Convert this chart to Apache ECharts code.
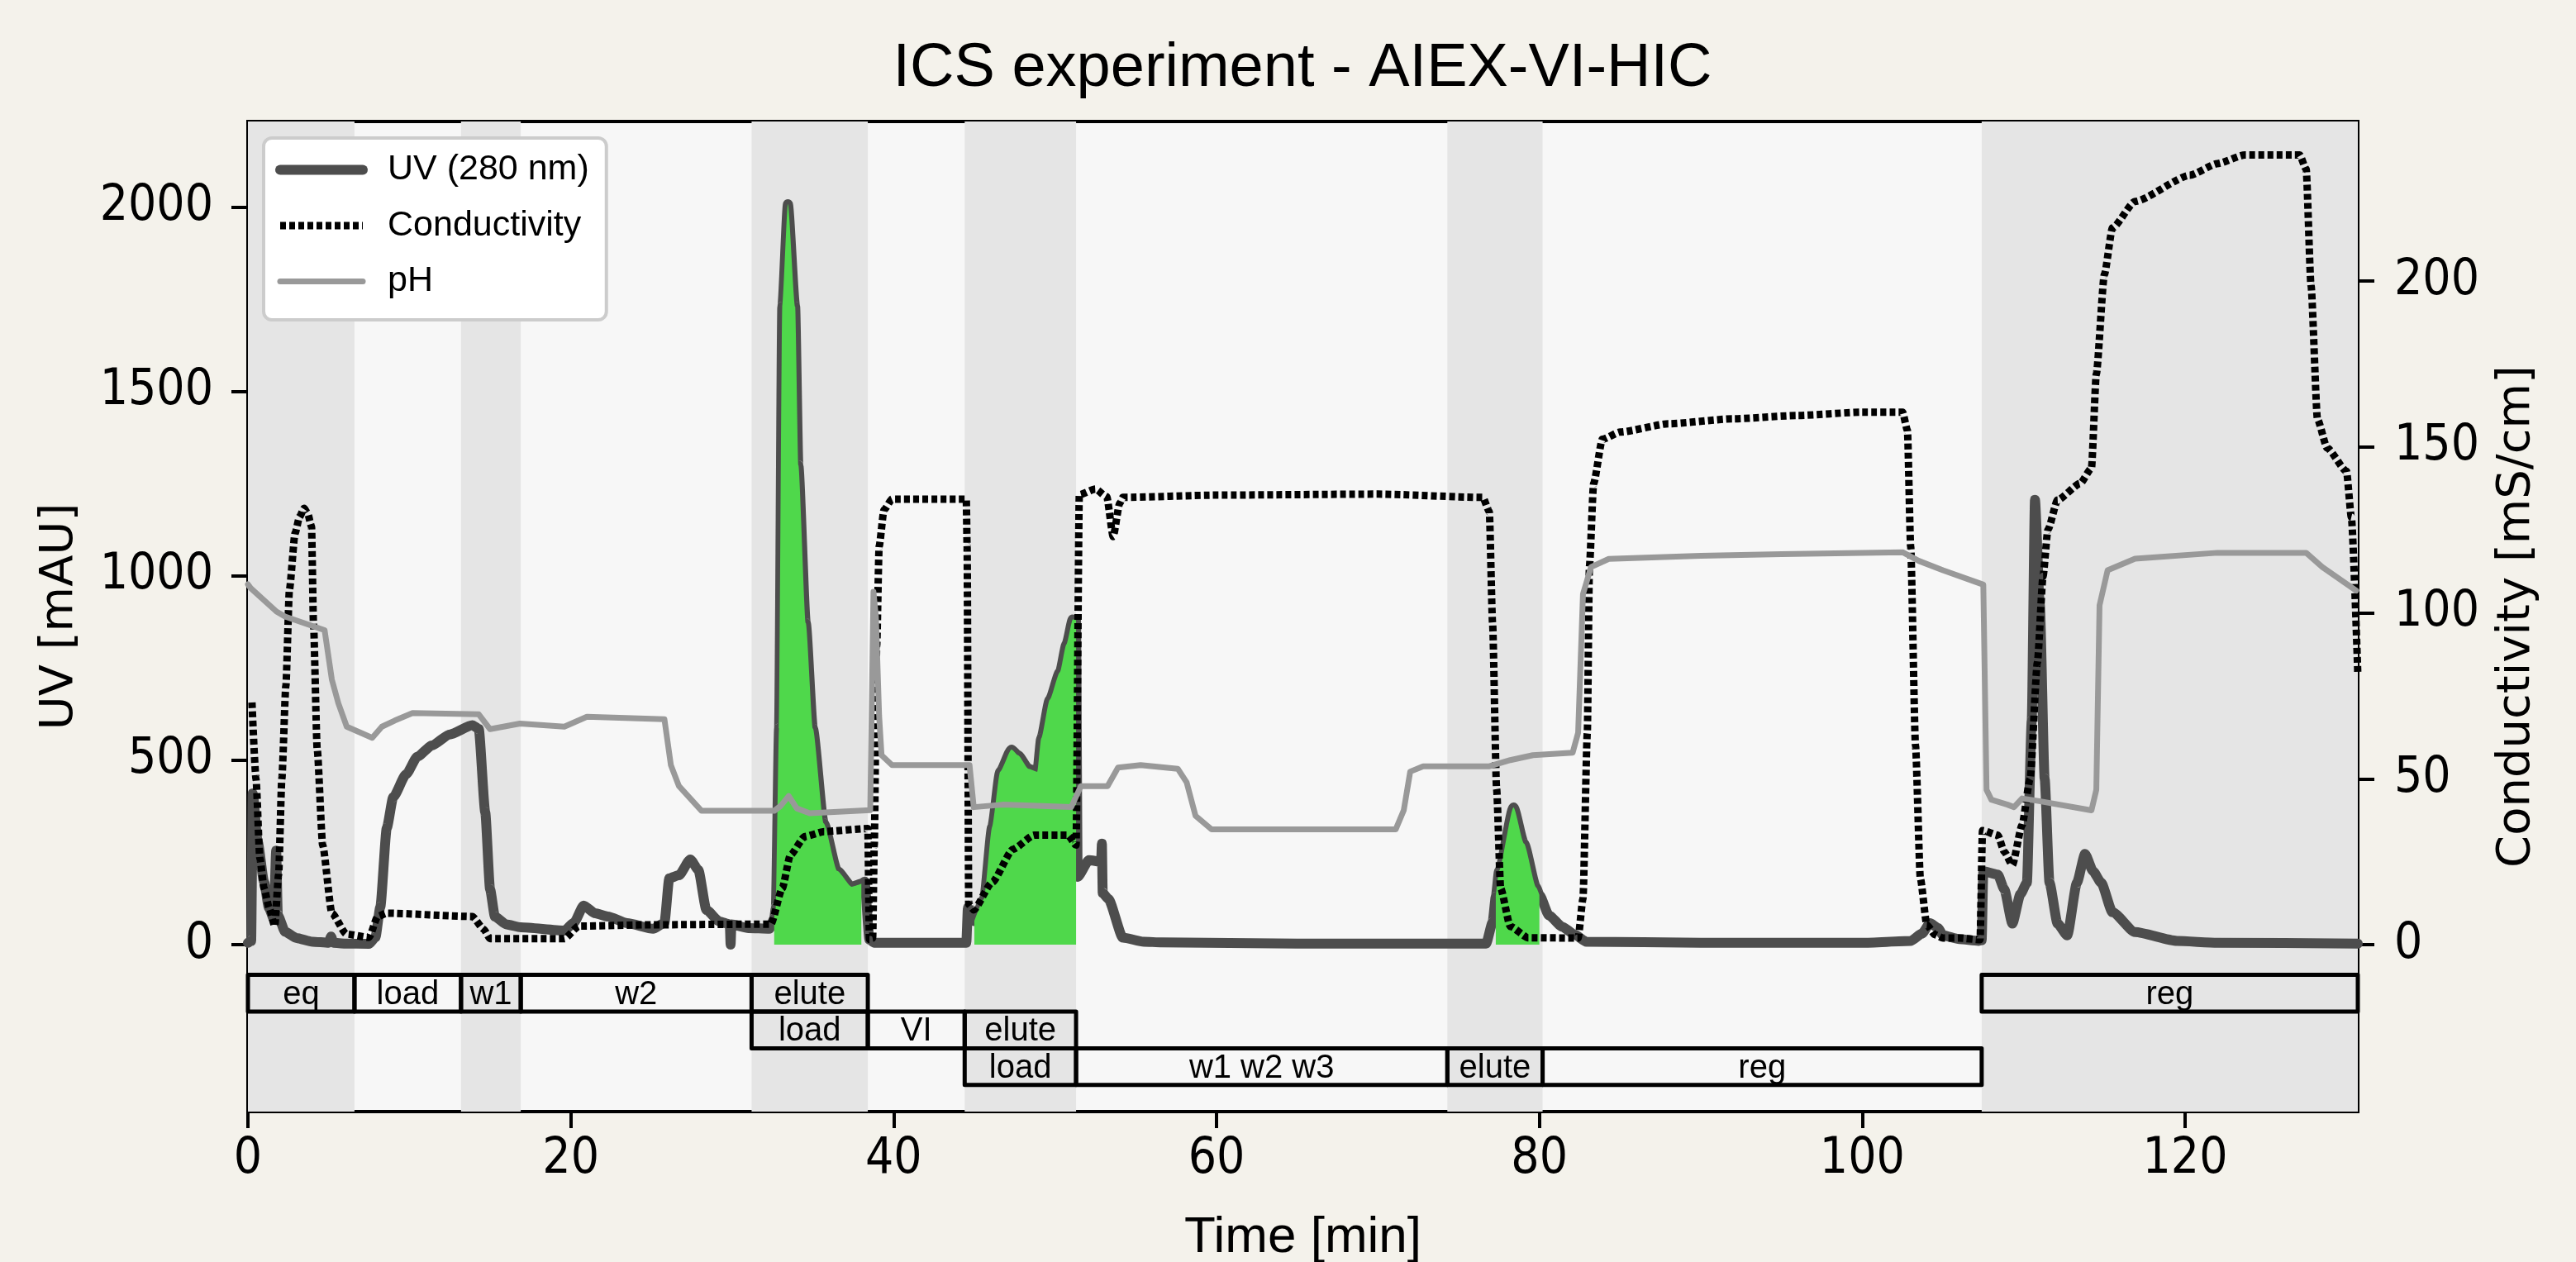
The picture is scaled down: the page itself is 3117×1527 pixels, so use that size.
<!DOCTYPE html>
<html><head><meta charset="utf-8">
<script src="https://cdn.jsdelivr.net/npm/echarts@6/dist/echarts.min.js"></script>
<style>html,body{margin:0;padding:0;background:#f4f2eb;} #c{width:3117px;height:1527px;}</style>
</head><body><div id="c"></div>
<script>
// ---------------- DATA ----------------
const uvTime = [0,0.2,0.3,0.6,1.0,1.3,1.6,1.75,1.85,2.3,3.0,4.0,5.0,5.15,5.3,6.0,7.5,7.9,8.2,8.6,9.0,9.8,10.5,11.4,12.5,13.9,14.3,14.7,15.0,15.3,16.0,16.9,19.6,20.2,20.8,21.5,22.3,23.5,25.1,25.8,26.1,26.7,27.4,27.9,28.4,29.2,29.85,29.9,29.95,31.0,32.3,32.6,32.7,32.9,33.1,33.45,33.9,34.1,34.56,35.0,35.67,36.5,37.4,38.0,38.2,38.5,38.8,44.5,44.6,45.0,45.6,46.1,46.6,47.3,47.7,48.36,48.9,49.14,49.67,50.3,50.7,51.1,51.3,51.4,52.1,52.85,52.9,52.95,53.3,54.2,55.5,56.6,65,76.7,77.1,77.3,77.5,78.4,79.05,79.8,80.0,80.6,81.4,82.2,82.9,90,100,103.0,103.7,104.2,104.7,105.0,106.0,107.2,107.4,107.5,108.4,108.8,109.3,109.8,110.2,110.5,110.7,111.0,111.3,111.6,112.1,112.7,113.3,113.8,114.3,114.8,115.5,116.9,119.5,122,130.7];
const uvValue = [5,10,410,280,170,100,70,255,80,35,18,8,5,22,5,3,2,20,102,316,400,462,510,540,570,595,585,359,150,76,55,47,38,60,106,85,76,58,43,59,180,188,231,203,94,63,55,0,55,45,43,70,100,586,1730,2008,1730,1300,872,586,329,200,157,165,171,14,5,5,100,64,124,319,469,529,514,477,469,559,664,739,814,882,880,184,229,225,274,140,124,19,8,6,3,3,60,130,199,372,274,155,135,79,49,27,8,5,5,10,30,58,45,25,15,10,12,199,190,150,57,137,168,607,1206,922,450,168,57,25,168,246,199,168,88,34,10,5,3];

const condTime = [0.25,0.5,0.74,1.0,1.32,1.66,1.9,2.1,2.35,2.57,2.92,3.2,3.48,3.7,3.94,4.06,4.29,4.63,5.2,6.1,7.5,8.04,8.6,13.9,14.6,15.0,19.6,20.5,25,32.4,33.1,33.6,34.5,35.7,38.4,38.5,38.7,38.8,38.95,39.1,39.4,39.9,44.5,44.55,44.65,44.96,46.1,47.4,48.7,50.8,51.3,51.5,52.5,53.2,53.6,54.0,54.2,60,70,76.5,76.9,77.1,77.35,77.6,78.2,79.3,82.4,82.7,82.97,83.1,83.36,83.9,85,88,92,96,100,102.5,102.8,103.0,103.3,103.6,104.0,104.5,105.0,106.0,107.3,107.45,108.4,108.8,109.3,109.9,110.4,110.85,111.2,111.5,112.1,113.5,114.2,114.5,115.0,115.5,116.9,120.3,122.0,123.7,127.1,127.5,127.8,128.2,128.8,130.0,130.3,130.7];
const condValue = [73,50,26,17,11,5.6,21,50,78,107,124,129,131.5,130,126,97,59,30,9.5,3.2,2.2,8.5,9.5,8.5,4.7,1.8,1.8,5.6,6,6.2,17,27,32.6,34.1,35,1.6,2,30,90,120,131,134.3,134.3,120,12.2,10.5,18.8,28.8,33,33,30,135.6,137.3,135,123,133,134.8,135.5,135.8,134.8,130.5,97,47,17,5.5,2.1,2,13.8,63.8,114,139,152.3,154.5,157,158.5,159.5,160.5,160.5,155,120,60,20,6,3,2,2,1.5,34.4,33,28,24,36,50,85,111,125,134,139,143.6,172,202,216,224,231.9,235.4,238,238,233.7,198.7,158.4,149.7,142.7,128.8,81.5];

const phTime = [0,0.17,1.77,2.3,4.75,5.2,5.6,6.12,7.0,7.7,8.3,9.1,10.2,14.3,15.0,16.85,19.6,21.0,25.8,26.2,26.7,28.1,32.6,33.0,33.5,34.0,34.8,38.55,38.75,38.9,39.1,39.25,39.9,44.7,44.96,46.75,51.0,51.6,53.25,53.9,55.3,57.6,58.15,58.7,59.7,71.1,71.6,72.0,72.8,76.9,78.2,79.6,82.06,82.4,82.7,83.2,84.3,90,95,100,102.5,103.5,105,107.5,107.7,108.0,109.0,109.4,109.9,110.9,114.2,114.5,114.7,115.2,116.9,122,127.5,128.5,130.6];
const phValue = [7.26,7.23,7.04,7.0,6.89,6.49,6.3,6.11,6.06,6.02,6.11,6.16,6.22,6.21,6.09,6.135,6.11,6.19,6.17,5.80,5.63,5.43,5.43,5.47,5.55,5.45,5.41,5.436,7.2,7.0,6.2,5.88,5.80,5.80,5.46,5.48,5.46,5.63,5.63,5.78,5.80,5.77,5.66,5.39,5.28,5.28,5.435,5.747,5.79,5.79,5.84,5.88,5.9,6.06,7.18,7.4,7.466,7.49,7.505,7.515,7.52,7.45,7.374,7.258,5.6,5.52,5.48,5.46,5.53,5.51,5.434,5.6,7.09,7.374,7.468,7.515,7.515,7.4,7.21];

// fraction collection windows (min)
const fillStart = [32.6, 45.0, 77.3];
const fillEnd   = [38.0, 51.3, 80.0];

// shaded column phases (min)
const bandStart = [0, 13.2, 31.2, 44.4, 74.3, 107.4];
const bandEnd   = [6.6, 16.9, 38.4, 51.3, 80.2, 130.7];

// phase boxes: start, end, row, label
const phaseStart = [0, 6.6, 13.2, 16.9, 31.2, 107.4, 31.2, 38.4, 44.4, 44.4, 51.3, 74.3, 80.2];
const phaseEnd   = [6.6, 13.2, 16.9, 31.2, 38.4, 130.7, 38.4, 44.4, 51.3, 51.3, 74.3, 80.2, 107.4];
const phaseRow   = [0, 0, 0, 0, 0, 0, 1, 1, 1, 2, 2, 2, 2];
const phaseLabel = ['eq','load','w1','w2','elute','reg','load','VI','elute','load','w1 w2 w3','elute','reg'];

// tick labels
const xTicks = [0, 20, 40, 60, 80, 100, 120];
const uvTicks = [0, 500, 1000, 1500, 2000];
const condTicks = [0, 50, 100, 150, 200];

// ---------------- CHART ----------------
const pair = (ts, vs) => ts.map((t, i) => [t, vs[i]]);
const uvData = pair(uvTime, uvValue);
const fillSeries = fillStart.map((s, k) => ({
  type: 'line', name: 'fill' + k, xAxisIndex: 0, yAxisIndex: 0, z: 3,
  data: uvData.filter(p => p[0] >= s && p[0] <= fillEnd[k]),
  symbol: 'none', silent: true, smooth: 0.2, smoothMonotone: 'x',
  lineStyle: { width: 0 },
  areaStyle: { color: '#4fd84b', opacity: 1 }
}));

const ROW_TOP = -82, ROW_H = 99.5;
const FONT_TICK = '"DejaVu Sans Condensed", "Liberation Sans Narrow", "DejaVu Sans"';
const plain = v => String(v);

const chart = echarts.init(document.getElementById('c'), null, { renderer: 'canvas' });
chart.setOption({
  animation: false,
  backgroundColor: '#f4f2eb',
  graphic: [{
    type: 'text', x: 1576, y: 84, z: 10,
    style: { text: 'ICS experiment - AIEX-VI-HIC', align: 'center', verticalAlign: 'middle',
             font: '74px "Liberation Sans"', fill: '#000' }
  }],
  grid: { left: 300, right: 264, top: 147, bottom: 182, show: true, outerBoundsMode: 'none', containLabel: false,
          backgroundColor: '#f7f7f7', borderColor: '#000', borderWidth: 4 },
  legend: {
    orient: 'vertical', left: 319, top: 167,
    padding: [17, 21, 25, 14],
    itemWidth: 100, itemHeight: 40, itemGap: 24.5,
    backgroundColor: '#ffffff', borderColor: '#cccccc', borderWidth: 4, borderRadius: 10,
    textStyle: { fontFamily: 'Liberation Sans', fontSize: 43, color: '#000', padding: [0, 0, 0, 25] },
    data: [
      { name: 'UV (280 nm)', itemStyle: { opacity: 0 }, lineStyle: { width: 12, color: '#4d4d4d', type: 'solid' } },
      { name: 'Conductivity', itemStyle: { opacity: 0 }, lineStyle: { width: 9, color: '#000', type: [7, 4] } },
      { name: 'pH', itemStyle: { opacity: 0 }, lineStyle: { width: 7, color: '#999999', type: 'solid' } }
    ]
  },
  xAxis: {
    type: 'value', min: 0, max: 130.7,
    name: 'Time [min]', nameLocation: 'middle', nameGap: 122,
    nameTextStyle: { fontFamily: 'Liberation Sans', fontSize: 62, color: '#000' },
    axisLine: { show: true, onZero: false, lineStyle: { color: '#000', width: 4 } },
    axisTick: { show: true, length: 20, lineStyle: { color: '#000', width: 4 }, customValues: xTicks },
    axisLabel: { fontFamily: FONT_TICK, fontSize: 60, color: '#000', margin: 28, customValues: xTicks, formatter: plain },
    splitLine: { show: false }
  },
  yAxis: [
    { type: 'value', position: 'left', min: -452.7, max: 2232,
      name: 'UV [mAU]', nameLocation: 'middle', nameGap: 200, nameRotate: 90,
      nameTextStyle: { fontFamily: 'DejaVu Sans', fontSize: 56, color: '#000' },
      axisLine: { show: true, onZero: false, lineStyle: { color: '#000', width: 4 } },
      axisTick: { show: true, length: 20, lineStyle: { color: '#000', width: 4 }, customValues: uvTicks },
      axisLabel: { fontFamily: FONT_TICK, fontSize: 60, color: '#000', margin: 42, customValues: uvTicks, formatter: plain },
      splitLine: { show: false } },
    { type: 'value', position: 'right', min: -50.3, max: 248.1,
      name: 'Conductivity [mS/cm]', nameLocation: 'middle', nameGap: 164, nameRotate: 90,
      nameTextStyle: { fontFamily: 'DejaVu Sans', fontSize: 56, color: '#000' },
      axisLine: { show: true, onZero: false, lineStyle: { color: '#000', width: 4 } },
      axisTick: { show: true, length: 20, lineStyle: { color: '#000', width: 4 }, customValues: condTicks },
      axisLabel: { fontFamily: FONT_TICK, fontSize: 60, color: '#000', margin: 44, customValues: condTicks, formatter: plain },
      splitLine: { show: false } },
    { type: 'value', show: false, min: 3, max: 11 }
  ],
  series: [
    { type: 'custom', name: 'bands', xAxisIndex: 0, yAxisIndex: 0, z: 1, silent: true,
      data: bandStart.map((s, i) => [s, bandEnd[i]]),
      encode: { x: [0, 1] },
      renderItem: function (params, api) {
        const x0 = api.coord([api.value(0), 0])[0];
        const x1 = api.coord([api.value(1), 0])[0];
        const cs = params.coordSys;
        return { type: 'rect', shape: { x: x0, y: cs.y, width: x1 - x0, height: cs.height },
                 style: { fill: '#e5e5e5' } };
      } },
    { type: 'line', name: 'UV (280 nm)', xAxisIndex: 0, yAxisIndex: 0, z: 2,
      data: uvData, symbol: 'none', smooth: 0.2, smoothMonotone: 'x',
      lineStyle: { color: '#4d4d4d', width: 12, cap: 'round', join: 'round' },
      itemStyle: { color: '#4d4d4d' } },
    ...fillSeries,
    { type: 'line', name: 'Conductivity', xAxisIndex: 0, yAxisIndex: 1, z: 4,
      data: pair(condTime, condValue), symbol: 'none', smooth: 0.2, smoothMonotone: 'x',
      lineStyle: { color: '#000', width: 9, type: [7, 4], cap: 'butt', join: 'round' },
      itemStyle: { color: '#000' } },
    { type: 'line', name: 'pH', xAxisIndex: 0, yAxisIndex: 2, z: 5,
      data: pair(phTime, phValue), symbol: 'none',
      lineStyle: { color: '#999999', width: 7, cap: 'round', join: 'round' },
      itemStyle: { color: '#999999' } },
    { type: 'custom', name: 'phases', xAxisIndex: 0, yAxisIndex: 0, z: 6, silent: true,
      data: phaseStart.map((s, i) => [s, phaseEnd[i], phaseRow[i]]),
      encode: { x: [0, 1] },
      renderItem: function (params, api) {
        const i = params.dataIndex;
        const row = api.value(2);
        const top = ROW_TOP - row * ROW_H;
        const p0 = api.coord([api.value(0), top]);
        const p1 = api.coord([api.value(1), top - ROW_H]);
        return { type: 'group', children: [
          { type: 'rect', shape: { x: p0[0], y: p0[1], width: p1[0] - p0[0], height: p1[1] - p0[1] },
            style: { fill: 'none', stroke: '#000', lineWidth: 5, lineJoin: 'round' } },
          { type: 'text', x: (p0[0] + p1[0]) / 2, y: (p0[1] + p1[1]) / 2 + 2,
            style: { text: phaseLabel[i], align: 'center', verticalAlign: 'middle',
                     font: '40px "Liberation Sans"', fill: '#000' } }
        ] };
      } }
  ]
});
</script>
</body></html>
